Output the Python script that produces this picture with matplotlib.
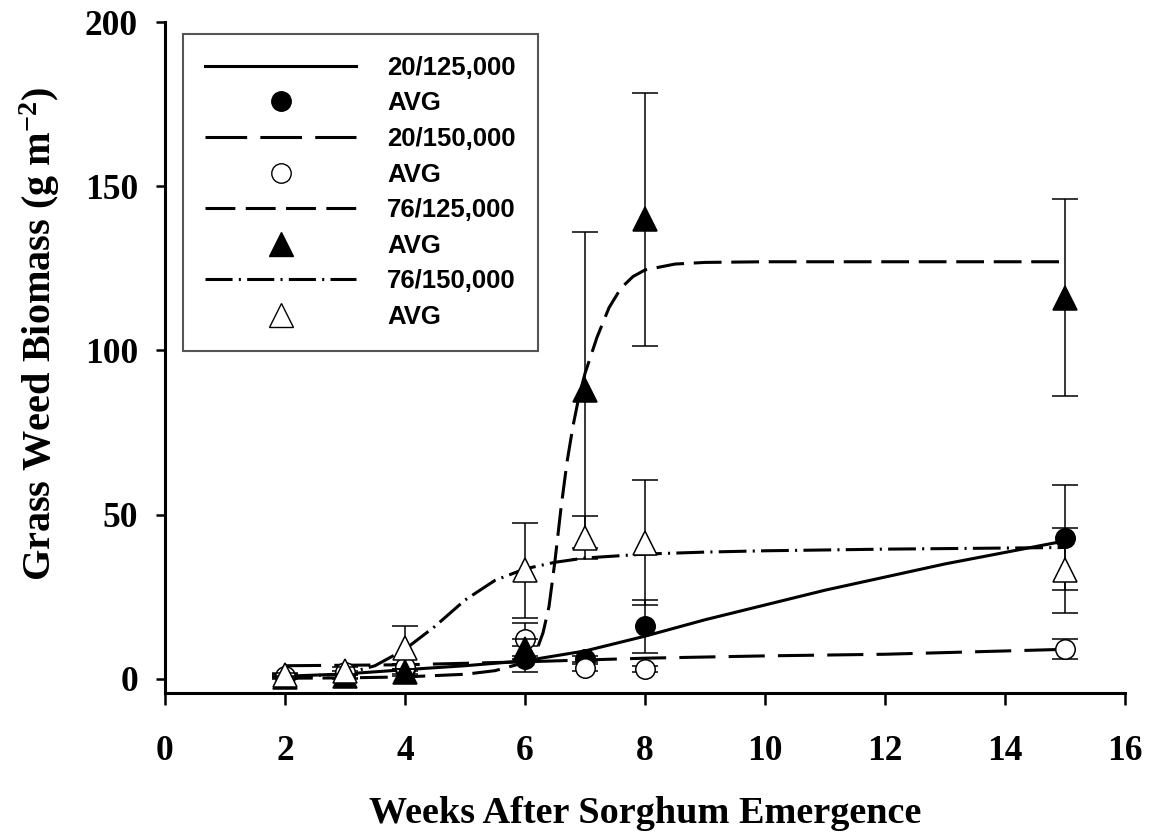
import numpy as np
import matplotlib
matplotlib.use("Agg")
import matplotlib.pyplot as plt
from matplotlib.lines import Line2D

plt.rcParams["lines.scale_dashes"] = False
plt.rcParams["mathtext.fontset"] = "custom"
plt.rcParams["mathtext.rm"] = "Liberation Serif:bold"
plt.rcParams["mathtext.it"] = "Liberation Serif:bold"
plt.rcParams["mathtext.bf"] = "Liberation Serif:bold"

# sampling weeks
weeks = [2, 3, 4, 6, 7, 8, 15]

# treatment means (g m-2) and standard errors
avg_20_125 = [0.6, 0.6, 3.0, 6.0, 6.0, 16.0, 43.0]
err_20_125 = [0.5, 0.5, 1.5, 4.0, 1.0, 8.0, 16.0]
avg_20_150 = [1.0, 2.0, 3.5, 12.0, 3.4, 3.0, 9.0]
err_20_150 = [0.5, 0.5, 1.0, 5.0, 1.0, 1.0, 3.0]
avg_76_125 = [0.5, 0.8, 2.0, 9.0, 88.0, 140.0, 116.0]
err_76_125 = [0.3, 0.5, 1.0, 3.0, 48.0, 38.5, 30.0]
avg_76_150 = [1.2, 2.5, 9.5, 33.0, 43.0, 41.5, 33.0]
err_76_150 = [0.5, 1.0, 6.5, 14.5, 6.5, 19.0, 13.0]

# fitted curves
fit_20_125_x = [2, 3, 4, 5, 6, 7, 8, 9, 10, 11, 12, 13, 14, 15]
fit_20_125_y = [0.8, 1.5, 2.8, 4.0, 5.5, 8.5, 13.0, 18.0, 22.5, 27.0, 31.0, 35.0, 38.5, 42.0]
fit_20_150_x = [2, 4, 6, 8, 10, 12, 14, 15]
fit_20_150_y = [4.0, 4.3, 5.2, 6.3, 7.0, 7.5, 8.5, 9.0]
fit_76_125_x = [2, 3, 4, 5, 5.5, 6, 6.2, 6.3, 6.4, 6.5, 6.6, 6.7, 6.8, 6.9, 7.0,
                7.2, 7.4, 7.6, 7.8, 8.0, 8.5, 9, 10, 12, 15]
fit_76_125_y = [0.2, 0.3, 0.6, 1.4, 2.5, 5.0, 9.0, 14.0, 22.0, 36.0, 52.0, 66.0, 77.0, 86.0, 93.0,
                104.0, 113.0, 119.0, 122.5, 124.5, 126.3, 126.8, 127.0, 127.0, 127.0]
fit_76_150_x = [2, 3, 3.5, 4, 4.5, 5, 5.5, 6, 6.5, 7, 8, 9, 10, 12, 15]
fit_76_150_y = [0.5, 1.5, 4.0, 9.0, 16.0, 24.0, 30.0, 33.5, 35.5, 36.8, 38.0, 38.6, 39.0, 39.5, 40.0]

LW = 2.2
DASH_LONG = (0, (26, 9.5))
DASH_MED = (0, (20, 7))
DASH_DOT = (0, (20, 4.5, 1.5, 4.5))
# legend handles get patterns that end on a full dash
LEG_LONG = (0, (30, 9.5))
LEG_MED = (0, (21.5, 7.5))
LEG_DOT = (0, (19.5, 4.5, 1.5, 4.5))

fig = plt.figure(figsize=(11.54, 8.33), dpi=100)
ax = fig.add_axes([165 / 1154, 140 / 833, 960 / 1154, 671 / 833])

ax.plot(fit_20_125_x, fit_20_125_y, color="black", linewidth=LW, linestyle="-", zorder=2)
ax.plot(fit_20_150_x, fit_20_150_y, color="black", linewidth=LW, linestyle=DASH_LONG, zorder=2)
ax.plot(fit_76_125_x, fit_76_125_y, color="black", linewidth=LW, linestyle=DASH_MED, zorder=2)
ax.plot(fit_76_150_x, fit_76_150_y, color="black", linewidth=LW, linestyle=DASH_DOT, zorder=2)

eb = dict(ecolor="black", elinewidth=1.1, capsize=9.5, capthick=1.1, linestyle="none",
          markeredgecolor="black", markeredgewidth=1.1)
ax.errorbar(weeks, avg_20_125, yerr=err_20_125, marker="o", markersize=14,
            markerfacecolor="black", zorder=3, **eb)
ax.errorbar(weeks, avg_20_150, yerr=err_20_150, marker="o", markersize=14,
            markerfacecolor="white", zorder=4, **eb)
ax.errorbar(weeks, avg_76_125, yerr=err_76_125, marker="^", markersize=17,
            markerfacecolor="black", zorder=5, **eb)
ax.errorbar(weeks, avg_76_150, yerr=err_76_150, marker="^", markersize=17,
            markerfacecolor="white", zorder=6, **eb)

ax.set_xlim(0, 16)
ax.set_ylim(-4.3, 200)
ax.set_xticks(np.arange(0, 17, 2))
ax.set_yticks(np.arange(0, 201, 50))
for side in ["top", "right"]:
    ax.spines[side].set_visible(False)
for side in ["left", "bottom"]:
    ax.spines[side].set_linewidth(2.2)

ax.tick_params(axis="x", direction="out", length=8.6, width=1.8, pad=22)
ax.tick_params(axis="y", direction="out", length=6.5, width=1.8, pad=13)
for lbl in ax.get_xticklabels() + ax.get_yticklabels():
    lbl.set_fontfamily("Liberation Serif")
    lbl.set_fontweight("bold")
    lbl.set_fontsize(25.5)

ax.set_xlabel("Weeks After Sorghum Emergence", fontfamily="Liberation Serif",
              fontweight="bold", fontsize=27.5, labelpad=20)
ax.set_ylabel(r"Grass Weed Biomass (g m$^{-2}$)", fontfamily="Liberation Serif",
              fontweight="bold", fontsize=29)
ax.yaxis.set_label_coords(-0.107, 0.535)

handles = [
    Line2D([], [], color="black", linewidth=LW, linestyle="-"),
    Line2D([], [], color="black", linestyle="none", marker="o", markersize=14,
           markerfacecolor="black", markeredgecolor="black"),
    Line2D([], [], color="black", linewidth=LW, linestyle=LEG_LONG),
    Line2D([], [], color="black", linestyle="none", marker="o", markersize=14,
           markerfacecolor="white", markeredgecolor="black"),
    Line2D([], [], color="black", linewidth=LW, linestyle=LEG_MED),
    Line2D([], [], color="black", linestyle="none", marker="^", markersize=17,
           markerfacecolor="black", markeredgecolor="black"),
    Line2D([], [], color="black", linewidth=LW, linestyle=LEG_DOT),
    Line2D([], [], color="black", linestyle="none", marker="^", markersize=17,
           markerfacecolor="white", markeredgecolor="black"),
]
labels = ["20/125,000", "AVG", "20/150,000", "AVG", "76/125,000", "AVG", "76/150,000", "AVG"]

leg = ax.legend(handles, labels, loc="upper left",
                bbox_to_anchor=(183 / 1154, 1 - 34 / 833), bbox_transform=fig.transFigure,
                borderaxespad=0, fancybox=False, framealpha=1, edgecolor="#555555",
                handlelength=5.9, handletextpad=1.2, labelspacing=0.45, borderpad=0.85,
                numpoints=1, prop={"family": "Liberation Sans", "weight": "bold", "size": 18.5})
leg.get_frame().set_linewidth(1.5)

fig.savefig("out.png", dpi=100)
